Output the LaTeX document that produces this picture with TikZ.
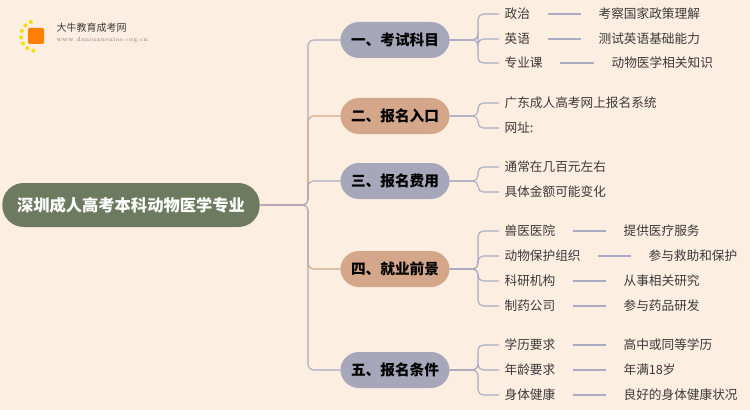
\documentclass[tikz,border=0pt]{standalone}
\usepackage{fontspec}
\newfontfamily\cjk{Noto Sans CJK SC}
\definecolor{bgc}{HTML}{FDEEE2}
\definecolor{rootc}{HTML}{6E7A60}
\definecolor{grayc}{HTML}{A6A7BA}
\definecolor{tanc}{HTML}{D5A78A}
\definecolor{linec}{HTML}{A9ABC4}
\definecolor{txtc}{HTML}{3A3A3A}
\tikzset{
  rootbox/.style={rounded corners=16, fill=rootc, minimum width=193, minimum height=33, text=white, font=\cjk\fontsize{12.2}{12.2}\selectfont\bfseries},
  catbox/.style={rounded corners=14, minimum width=82, minimum height=27, text=black, font=\cjk\fontsize{11}{11}\selectfont\bfseries},
  leaf/.style={anchor=west, text=txtc, inner sep=1pt, font=\cjk\fontsize{9.5}{9.5}\selectfont},
  link/.style={draw=linec, line width=0.8pt, rounded corners=4},
}
\begin{document}
\begin{tikzpicture}[x=0.75pt, y=-0.75pt]
	\fill [bgc] (0,0) rectangle (750,410);
	\useasboundingbox (0,0) rectangle (750,410);

	%标志
	\foreach \a in {100,125,...,250}
		\fill [yellow!80!orange] (36,36) ++(\a:15) circle(2);
	\fill [orange, rounded corners=1] (28,28) rectangle (44,44);
	\node [anchor=west, font=\cjk\fontsize{7.5}{7.5}\selectfont, text=txtc] (logo) at (52,28) {大牛教育成考网};
	\node [anchor=west, font=\fontsize{4.5}{4.5}\selectfont, text=gray] (url) at (52,40) {www.daniuxuexiao.org.cn};

	%中心主题
	\node [rootbox] (root) at (131,205) {深圳成人高考本科动物医学专业};

	%分支
	\node [catbox, fill=grayc] (c1) at (395,40) {一、考试科目};
	\node [catbox, fill=tanc] (c2) at (395,116) {二、报名入口};
	\node [catbox, fill=grayc] (c3) at (395,181) {三、报名费用};
	\node [catbox, fill=tanc] (c4) at (395,269) {四、就业前景};
	\node [catbox, fill=grayc] (c5) at (395,370) {五、报名条件};
	\foreach \c/\col in {c1/linec,c2/tanc,c3/linec,c4/tanc,c5/linec}
		\draw [link, draw=\col] (root.east) -- (308,205) |- (\c.west);

	%叶子
	\node [leaf] (l11) at (503,14) {政治};
	\node [leaf] (l12) at (503,39) {英语};
	\node [leaf] (l13) at (503,63) {专业课};
	\node [leaf] (l21) at (503,103) {广东成人高考网上报名系统};
	\node [leaf] (l22) at (503,128) {网址:};
	\node [leaf] (l31) at (503,167) {通常在几百元左右};
	\node [leaf] (l32) at (503,192) {具体金额可能变化};
	\node [leaf] (l41) at (503,231) {兽医医院};
	\node [leaf] (l42) at (503,256) {动物保护组织};
	\node [leaf] (l43) at (503,281) {科研机构};
	\node [leaf] (l44) at (503,306) {制药公司};
	\node [leaf] (l51) at (503,345) {学历要求};
	\node [leaf] (l52) at (503,370) {年龄要求};
	\node [leaf] (l53) at (503,395) {身体健康};
	\foreach \c/\l in {c1/l11,c1/l12,c1/l13,c2/l21,c2/l22,c3/l31,c3/l32,c4/l41,c4/l42,c4/l43,c4/l44,c5/l51,c5/l52,c5/l53}
		\draw [link] (\c.east) -- (478,0 |- \c.east) |- ([xshift=-3]\l.west);

	%说明
	\node [leaf] (d11) at (597,14) {考察国家政策理解};
	\node [leaf] (d12) at (597,39) {测试英语基础能力};
	\node [leaf] (d13) at (610,63) {动物医学相关知识};
	\node [leaf] (d41) at (622,231) {提供医疗服务};
	\node [leaf] (d42) at (647,256) {参与救助和保护};
	\node [leaf] (d43) at (622,281) {从事相关研究};
	\node [leaf] (d44) at (622,306) {参与药品研发};
	\node [leaf] (d51) at (622,345) {高中或同等学历};
	\node [leaf] (d52) at (622,370) {年满18岁};
	\node [leaf] (d53) at (622,395) {良好的身体健康状况};
	\foreach \l/\d in {l11/d11,l12/d12,l13/d13,l41/d41,l42/d42,l43/d43,l44/d44,l51/d51,l52/d52,l53/d53}
		\draw [link] ([xshift=12]\l.east) -- ([xshift=-12]\d.west);
\end{tikzpicture}
\end{document}
